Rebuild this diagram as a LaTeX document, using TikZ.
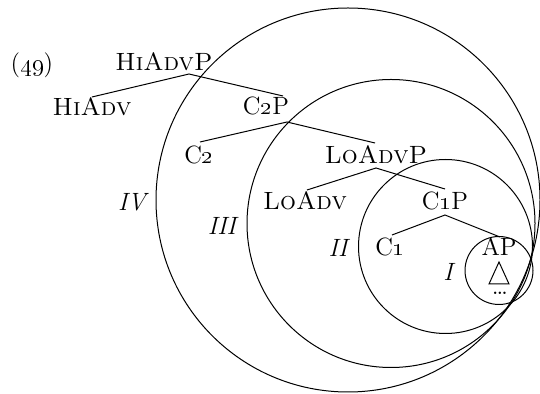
\documentclass[tikz,border=0pt]{standalone}
\begin{document}
\begin{tikzpicture}[x=0.5pt,y=-0.5pt,line width=0.5pt,
  lab/.style={inner sep=0pt,font=\fontsize{12.5}{14}\selectfont},
  rn/.style={inner sep=0pt,font=\fontsize{12.5}{14}\selectfont\itshape},
  ring/.style={draw}]
\useasboundingbox (0,0) rectangle (540,394);
% circles
\draw[ring] (348,200) circle[radius=96pt];
\draw[ring] (391,223.5) circle[radius=72pt];
\draw[ring] (445.5,246.5) circle[radius=43.5pt];
\draw[ring] (499,270.5) circle[radius=17pt];
% labels
\node[lab] (ex) at (32,65) {(\oldstylenums{49})};
\node[lab] (hiadvp) at (164,62) {\textsc{HiAdvP}};
\node[lab] (hiadv) at (92,107) {\textsc{HiAdv}};
\node[lab] (c2p) at (266,106) {C\oldstylenums{2}P};
\node[lab] (c2) at (199,155) {C\oldstylenums{2}};
\node[lab] (loadvp) at (376,155) {\textsc{LoAdvP}};
\node[lab] (loadv) at (305,201) {\textsc{LoAdv}};
\node[lab] (c1p) at (445,201) {C\oldstylenums{1}P};
\node[lab] (c1) at (390,247) {C\oldstylenums{1}};
\node[lab] (ap) at (499,247) {AP};
\node[lab] (dots) at (500,293) {\dots};
\node[rn] (iv) at (132,202) {IV};
\node[rn] (iii) at (222,226) {III};
\node[rn] (ii) at (338,248) {II};
\node[rn] (i) at (448,272) {I};
% branch points and ends
\coordinate (b1) at (189,74);
\coordinate (e1l) at (92,97);
\coordinate (e1r) at (283,96);
\coordinate (b2) at (287,122);
\coordinate (e2l) at (200,142);
\coordinate (e2r) at (375,143);
\coordinate (b3) at (376,168);
\coordinate (e3l) at (307,190);
\coordinate (e3r) at (445,189);
\coordinate (b4) at (445,215);
\coordinate (e4l) at (392,235);
\coordinate (e4r) at (500,237);
\draw (e1l) -- (b1) -- (e1r);
\draw (e2l) -- (b2) -- (e2r);
\draw (e3l) -- (b3) -- (e3r);
\draw (e4l) -- (b4) -- (e4r);
% triangle
\coordinate (tri) at (499,273);
\draw (tri) ++(-10,11) -- ++(20,0) -- ++(-10,-22) -- cycle;
\end{tikzpicture}
\end{document}
